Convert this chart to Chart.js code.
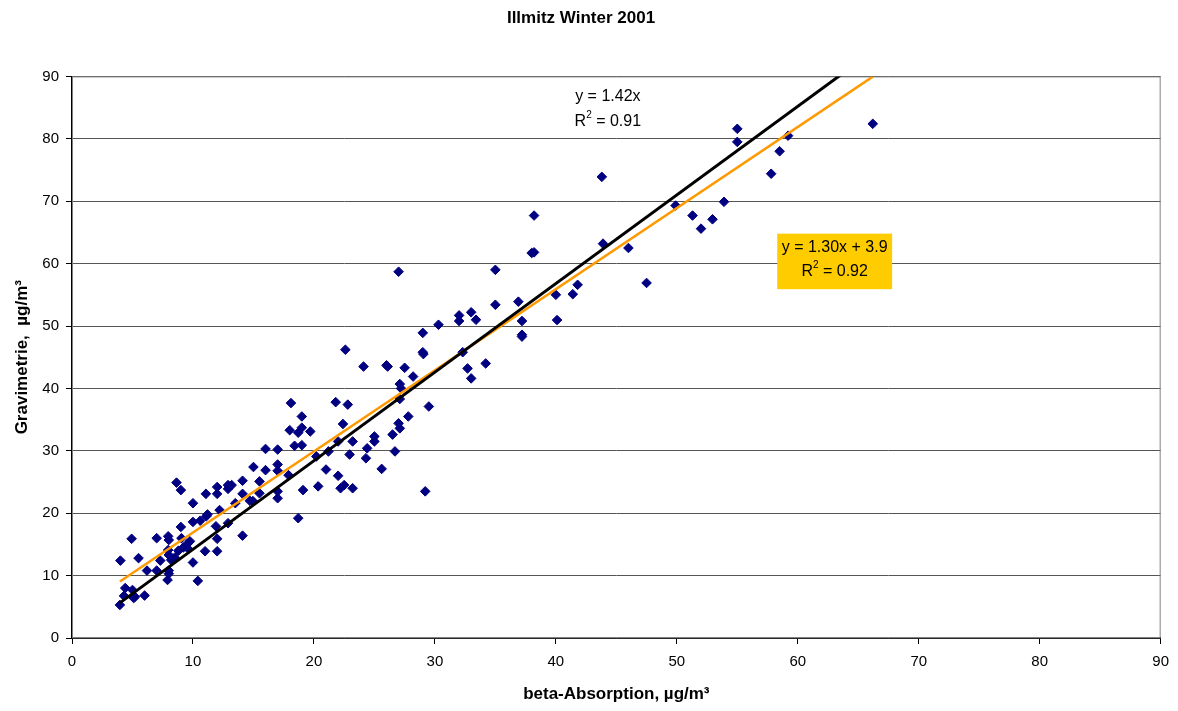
<!DOCTYPE html>
<html>
<head>
<meta charset="utf-8">
<script src="https://cdn.jsdelivr.net/npm/chart.js@4/dist/chart.umd.min.js"></script>
<style>
    html, body { margin: 0; padding: 0; background: #fff; }
</style>
</head>
<body>
<canvas id="illmitzChart" width="1178" height="711"></canvas>
<script>
/* =========================
   DATA
========================== */
const betaAbs = [
    3.96, 4.0, 4.3, 4.4, 4.93, 5.0, 5.1, 5.2, 5.5, 6.0, 6.2, 7.0, 7.0, 7.3, 7.95, 8.0, 7.95, 8.0, 8.2, 8.5,
    8.0, 8.0, 7.9, 8.64, 8.8, 9.0, 9.0, 9.05, 9.2, 9.5, 9.75, 9.6,
    10.0, 10.0, 10.0, 10.4, 10.6, 11.0, 11.07, 11.1, 11.2, 11.9, 12.0, 12.0, 12.0, 12.0, 12.2, 12.9, 12.9, 12.9,
    13.2, 13.5, 14.1, 14.1, 14.1, 14.7, 14.95, 15.0, 15.5, 15.5,
    16.0, 16.0, 17.0, 17.0, 17.0, 17.0, 17.0, 17.9, 18.0, 18.1, 18.4, 18.7, 18.7, 19.0, 19.0, 19.0, 19.1, 19.7,
    20.2, 20.35, 21.0, 21.2, 21.8, 22.0, 22.0, 22.2, 22.4, 22.5, 22.6, 22.8, 22.95, 23.2, 23.2, 24.1, 24.3, 24.4, 25.0, 25.0,
    25.6, 26.0, 26.1, 26.5, 26.7, 27.0, 27.0, 27.1, 27.1, 27.1, 27.2, 27.5, 27.8, 28.2, 29.0, 29.0, 29.05, 29.2, 29.5,
    30.3, 32.0, 32.0, 32.3, 32.7, 33.0, 33.0, 33.4, 34.2, 35.0, 35.0, 36.9, 37.2, 37.2, 37.2, 38.0, 38.2, 38.2,
    40.0, 40.1, 41.4, 41.8, 43.8, 43.9, 46.0, 47.5, 49.9, 51.3, 52.0, 52.95, 53.9, 55.0, 55.0, 57.8, 58.5, 59.2, 66.2
];
const gravimetrie = [
    5.3, 12.4, 6.75, 8.0, 15.9, 7.7, 6.4, 6.6, 12.8, 6.8, 10.8, 16.0, 10.8, 12.4, 16.3, 15.7, 14.1, 13.3, 12.5, 12.9,
    10.8, 10.3, 9.3, 24.9, 14.0, 23.7, 17.8, 16.0, 14.5, 15.0, 15.5, 14.3,
    21.6, 18.6, 12.1, 9.15, 18.8, 13.9, 23.1, 19.5, 19.8, 17.9, 24.2, 23.1, 15.9, 13.9, 20.5, 24.5, 23.9, 18.4,
    24.5, 21.6, 16.4, 25.2, 23.1, 22.0, 21.95, 27.4, 25.1, 23.2,
    30.3, 26.9, 30.2, 27.8, 26.8, 23.5, 22.4, 26.1, 33.3, 37.65, 30.8, 32.9, 19.2, 35.5, 33.7, 30.9, 23.7, 33.1,
    29.1, 24.3, 27.0, 29.9, 37.8, 31.5, 26.0, 24.0, 34.3, 24.5, 46.2, 37.4, 29.4, 31.5, 24.0, 43.5, 28.8, 30.4, 32.3, 31.5,
    27.1, 43.7, 43.5, 32.6, 29.9, 58.7, 34.4, 33.6, 38.3, 40.7, 40.0, 43.3, 35.5, 41.9, 48.9, 45.8, 45.5, 23.5, 37.1,
    50.2, 51.7, 50.8, 45.8, 43.2, 52.2, 41.6, 51.0, 44.0, 59.0, 53.4, 53.9, 50.8, 48.6, 48.3, 61.7, 61.8, 67.7,
    55.0, 50.95, 55.1, 56.6, 73.9, 63.2, 62.5, 56.9, 69.3, 67.7, 65.6, 67.1, 69.9, 81.6, 79.5, 74.4, 78.0, 80.5, 82.4
];
const axisTicks = [0, 10, 20, 30, 40, 50, 60, 70, 80, 90];

// trendlines as printed on the chart
const slopeOrigin = 1.42;            // y = 1.42x, R2 = 0.91
const slopeFit = 1.30;               // y = 1.30x + 3.9, R2 = 0.92
const interceptFit = 3.9;

/* =========================
   BUILD CHART
========================== */
const points = betaAbs.map((x, i) => ({ x: x, y: gravimetrie[i] }));
const xLo = Math.min(...betaAbs);
const xHi = Math.max(...betaAbs);
const lineOrigin = [{ x: xLo, y: slopeOrigin * xLo }, { x: xHi, y: slopeOrigin * xHi }];
const lineFit = [{ x: xLo, y: slopeFit * xLo + interceptFit }, { x: xHi, y: slopeFit * xHi + interceptFit }];

const sans = "'Liberation Sans', Arial, sans-serif";

// frame around the plot area + the two equation labels
const annotations = {
    id: "annotations",
    beforeDatasetsDraw(chart) {
        const { ctx, chartArea: a } = chart;
        ctx.save();
        ctx.strokeStyle = "#808080";
        ctx.lineWidth = 1;
        ctx.strokeRect(a.left + 0.5, a.top + 0.5, a.right - a.left - 1, a.bottom - a.top - 1);
        ctx.restore();
    },
    afterDatasetsDraw(chart) {
        const { ctx, scales: { x, y } } = chart;
        const big = "16px " + sans, small = "10px " + sans;
        ctx.save();
        ctx.font = big;
        ctx.textAlign = "center";
        ctx.textBaseline = "middle";
        ctx.fillStyle = "#000";

        const drawR2 = (cx, cy, val) => {
            const base = "R", rest = " = " + val;
            ctx.font = big;
            const wb = ctx.measureText(base).width;
            const wr = ctx.measureText(rest).width;
            ctx.font = small;
            const ws = ctx.measureText("2").width;
            const start = cx - (wb + ws + wr) / 2;
            ctx.textAlign = "left";
            ctx.font = big;
            ctx.fillText(base, start, cy);
            ctx.font = small;
            ctx.fillText("2", start + wb, cy - 6);
            ctx.font = big;
            ctx.fillText(rest, start + wb + ws, cy);
            ctx.textAlign = "center";
        };

        // black trendline label
        ctx.fillText("y = 1.42x", x.getPixelForValue(44.3), y.getPixelForValue(86.8));
        drawR2(x.getPixelForValue(44.3), y.getPixelForValue(82.8), "0.91");

        // orange box label
        const bx0 = x.getPixelForValue(58.3), bx1 = x.getPixelForValue(67.8);
        const by0 = y.getPixelForValue(64.8), by1 = y.getPixelForValue(55.9);
        ctx.fillStyle = "#FFCC00";
        ctx.fillRect(bx0, by0, bx1 - bx0, by1 - by0);
        ctx.fillStyle = "#000";
        const cx = (bx0 + bx1) / 2;
        ctx.fillText("y = 1.30x + 3.9", cx, y.getPixelForValue(62.6));
        drawR2(cx, y.getPixelForValue(58.7), "0.92");
        ctx.restore();
    }
};

new Chart(document.getElementById("illmitzChart").getContext("2d"), {
    type: "scatter",
    data: {
        datasets: [
            { label: "y = 1.42x", type: "line", data: lineOrigin, borderColor: "#000000", borderWidth: 3, pointRadius: 0, fill: false },
            { label: "y = 1.30x + 3.9", type: "line", data: lineFit, borderColor: "#FF9900", borderWidth: 2.5, pointRadius: 0, fill: false },
            {
                label: "Gravimetrie", data: points, pointStyle: "rectRot", pointRadius: 4.8,
                backgroundColor: "#000080", borderColor: "#000080", borderWidth: 1
            }
        ]
    },
    options: {
        responsive: false,
        animation: false,
        devicePixelRatio: 1,
        layout: { padding: { left: 0, right: 16, top: 0, bottom: 0 } },
        plugins: {
            legend: { display: false },
            tooltip: { enabled: false },
            title: {
                display: true,
                text: "Illmitz Winter 2001",
                color: "#000",
                font: { family: sans, size: 17, weight: "bold" },
                padding: { top: 8, bottom: 48 }
            }
        },
        scales: {
            x: {
                type: "linear", min: 0, max: 90,
                afterBuildTicks: (s) => { s.ticks = axisTicks.map(v => ({ value: v })); },
                afterFit: (s) => { s.height = 73; },
                grid: { drawOnChartArea: false, drawTicks: true, tickLength: 6, tickColor: "#000" },
                border: { color: "#000", width: 1.5 },
                ticks: { color: "#000", font: { family: sans, size: 15 }, padding: 9, maxRotation: 0 },
                title: {
                    display: true, text: "beta-Absorption, µg/m³", color: "#000",
                    font: { family: sans, size: 17, weight: "bold" }, padding: { top: 0, bottom: 6 }
                }
            },
            y: {
                type: "linear", min: 0, max: 90,
                afterBuildTicks: (s) => { s.ticks = axisTicks.map(v => ({ value: v })); },
                afterFit: (s) => { s.width = 72; },
                grid: { color: "#555", lineWidth: 1, drawTicks: true, tickLength: 6, tickColor: "#000" },
                border: { color: "#000", width: 1.5 },
                ticks: { color: "#000", font: { family: sans, size: 15 }, padding: 7 },
                title: {
                    display: true, text: "Gravimetrie,  µg/m³", color: "#000",
                    font: { family: sans, size: 17, weight: "bold" }, padding: { top: 12, bottom: 0 }
                }
            }
        }
    },
    plugins: [annotations]
});
</script>
</body>
</html>
